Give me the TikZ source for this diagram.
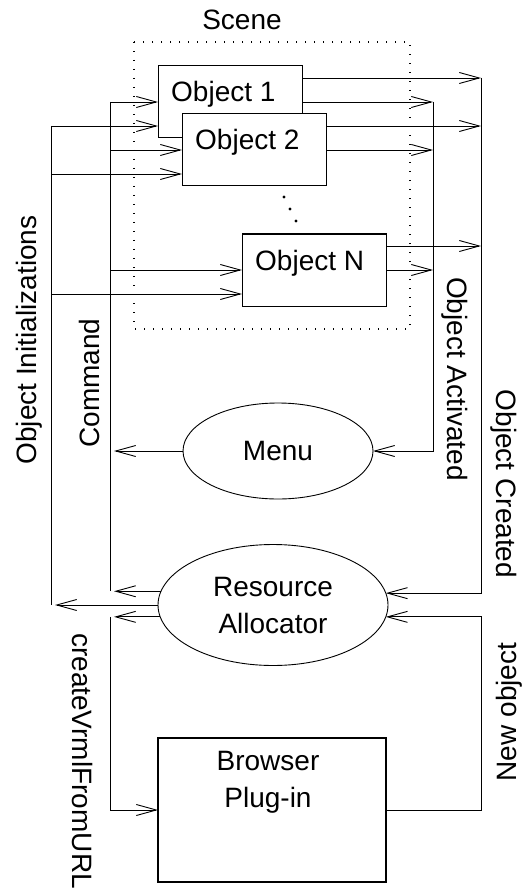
\documentclass[tikz,border=0pt]{standalone}
\usepackage{fontspec}
\setmainfont{Liberation Sans}
\usetikzlibrary{arrows.meta,calc,shapes.geometric}
\begin{document}
\begin{tikzpicture}[x=1pt,y=-1pt,
  font=\fontsize{28}{37}\selectfont,
  wire/.style={line width=0.9pt},
  flow/.style={wire,-{Straight Barb[length=20pt,width=11pt]}},
  objbox/.style={draw,fill=white,line width=1pt,minimum width=144pt,minimum height=72pt,inner sep=0pt,outer sep=0pt},
  oval/.style={draw,ellipse,line width=0.9pt,inner sep=0pt,outer sep=0pt,align=center},
  side/.style={inner sep=0pt},
]
\useasboundingbox (0,0) rectangle (524,893);

% bus positions
\coordinate (initx) at (51,0);
\coordinate (cmdx) at (110,0);
\coordinate (actx) at (433,0);
\coordinate (crx) at (481,0);

% scene with its objects
\node[anchor=base,side] (scenelbl) at (242,30) {Scene};
\draw[line width=1.2pt,dash pattern=on 1.2pt off 7.8pt] (134,42) rectangle (410,329);

\node[objbox] (o1) at (230,102) {};
\node[anchor=base west,side] (o1txt) at ($(o1.west)+(13,0)$) {Object 1};
\node[objbox] (o2) at (254,150) {};
\node[anchor=base west,side] (o2txt) at ($(o2.west)+(13,0)$) {Object 2};
\node[objbox] (on) at (314,270) {};
\node[anchor=base west,side] (ontxt) at ($(on.west)+(13,0)$) {Object N};

\fill (284,197) circle[radius=1.7pt] (290,209) circle[radius=1.7pt] (296,221) circle[radius=1.7pt];

% second port of each object
\coordinate (o1in) at ($(o1.west)+(0,24)$);
\coordinate (o2in) at ($(o2.west)+(0,24)$);
\coordinate (onin) at ($(on.west)+(0,24)$);
\coordinate (o1out) at ($(o1.east)+(0,-24)$);
\coordinate (o2out) at ($(o2.east)+(0,-24)$);
\coordinate (onout) at ($(on.east)+(0,-24)$);

% menu, allocator, plug-in
\node[oval,minimum width=190pt,minimum height=96pt] (menu) at (278,451) {Menu};
\node[oval,minimum width=230pt,minimum height=121pt] (ra) at (273,605) {Resource\\Allocator};
\node[draw,line width=1.8pt,minimum width=228pt,minimum height=144pt,inner sep=0pt,outer sep=0pt] (bp) at (272,810) {};
\node[align=center,side] (bptxt) at (268,782) {Browser\\Plug-in};

% command bus
\draw[wire] (cmdx |- o1.west) -- (cmdx |- ra.173.92);
\draw[flow] (cmdx |- o1.west) -- (o1.west);
\draw[flow] (cmdx |- o2.west) -- (o2.west);
\draw[flow] (cmdx |- on.west) -- (on.west);
\draw[flow] (menu.west) -- ($(cmdx |- menu.west)+(4,0)$);
\draw[flow] (ra.173.92) -- ($(cmdx |- ra.173.92)+(4,0)$);

% initialization bus
\draw[wire] (initx |- o1in) -- (initx |- ra.west);
\draw[flow] (initx |- o1in) -- (o1in);
\draw[flow] (initx |- o2in) -- (o2in);
\draw[flow] (initx |- onin) -- (onin);
\draw[flow] (ra.west) -- ($(initx |- ra.west)+(4,0)$);

% activation bus
\draw[flow] (o1.east) -- (actx |- o1.east);
\draw[flow] (o2.east) -- (actx |- o2.east);
\draw[flow] (on.east) -- (actx |- on.east);
\draw[flow] (actx |- o1.east) -- (actx |- menu.east) -- (menu.east);

% creation bus
\draw[flow] (o1out) -- (crx |- o1out);
\draw[flow] (o2out) -- (crx |- o2out);
\draw[flow] (onout) -- (crx |- onout);
\draw[flow] (crx |- o1out) -- (crx |- ra.6.08) -- (ra.6.08);

% allocator <-> plug-in
\draw[flow] (ra.186.08) -- ($(cmdx |- ra.186.08)+(4,0)$);
\draw[flow] (cmdx |- ra.186.08) -- (cmdx |- bp.west) -- (bp.west);
\draw[flow] (bp.east) -- (crx |- bp.east) -- (crx |- ra.-6.08) -- (ra.-6.08);

% bus labels
\node[rotate=90,side] (initlbl) at (29,340) {Object Initializations};
\node[rotate=90,side] (cmdlbl) at (89,383) {Command};
\node[rotate=-90,side] (actlbl) at (455,379) {Object Activated};
\node[rotate=-90,side] (crlbl) at (504,484) {Object Created};
\node[rotate=-90,side] (urllbl) at (83,761) {createVrmlFromURL};
\node[rotate=90,side] (newlbl) at (509,712) {New object};
\end{tikzpicture}
\end{document}
